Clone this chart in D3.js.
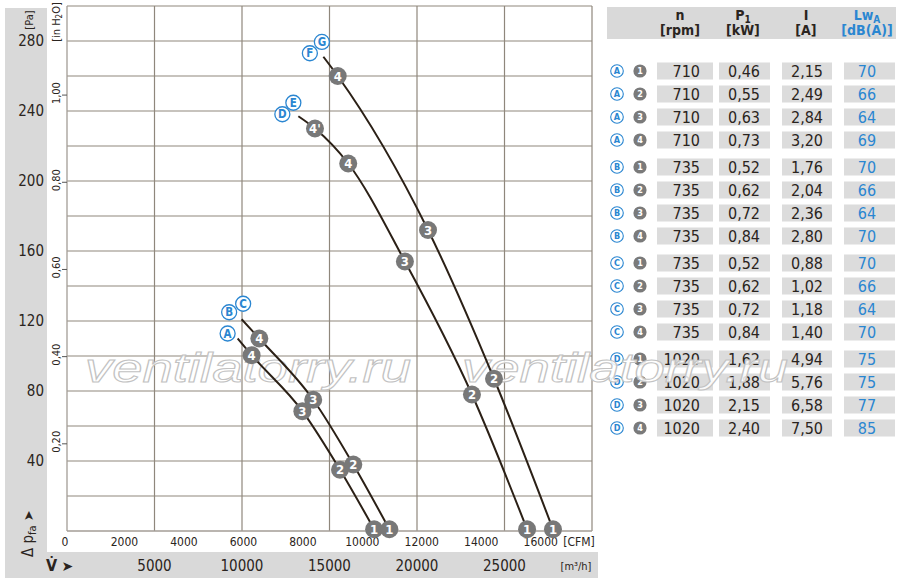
<!DOCTYPE html>
<html><head><meta charset="utf-8">
<script src="https://cdn.jsdelivr.net/npm/d3@7"></script>
<style>
body{margin:0;background:#fff;}
svg{display:block;font-family:"Liberation Sans Narrow","Arial Narrow","DejaVu Sans Condensed",sans-serif;}
</style></head><body>
<svg id="c" width="900" height="583"></svg>
<script>
// ---------------- DATA ----------------
const flowTicksM3h = [5000, 10000, 15000, 20000, 25000];
const flowTicksCFM = [0, 2000, 4000, 6000, 8000, 10000, 12000, 14000, 16000];
const pressureTicksPa = [40, 80, 120, 160, 200, 240, 280];
const pressureTicksInH2O = [0.20, 0.40, 0.60, 0.80, 1.00];

// characteristic curves: [flow m3/h, pressure Pa]
const curveA  = [[9750, 110], [10550, 100.5], [13450, 68.5], [15600, 35], [17550, 1]];
const curveBC = [[9980, 121], [10990, 110], [14070, 75], [16360, 38], [18420, 1]];
const curveDE = [[13220, 237], [14170, 230], [16070, 210], [19310, 154], [23140, 78], [26290, 1]];
const curveFG = [[14650, 271], [15470, 260], [20630, 172], [24400, 87], [27770, 1]];
// operating point labels for each curve point ("" = no marker)
const markersA  = ["", "4", "3", "2", "1"];
const markersBC = ["", "4", "3", "2", "1"];
const markersDE = ["", "4'", "4", "3", "2", "1"];
const markersFG = ["", "4", "3", "2", "1"];

// table
const groupLetters = ["A", "B", "C", "D"];
const pointNumbers = ["1", "2", "3", "4"];
const speedRpm = ["710","710","710","710","735","735","735","735","735","735","735","735","1020","1020","1020","1020"];
const powerKW = ["0,46","0,55","0,63","0,73","0,52","0,62","0,72","0,84","0,52","0,62","0,72","0,84","1,62","1,88","2,15","2,40"];
const currentA = ["2,15","2,49","2,84","3,20","1,76","2,04","2,36","2,80","0,88","1,02","1,18","1,40","4,94","5,76","6,58","7,50"];
const soundLwA = ["70","66","64","69","70","66","64","70","70","66","64","70","75","75","77","85"];

// ---------------- DRAW ----------------
const svg = d3.select("#c");
const BLUE = "#2a86d1", DARK = "#2a2420", GRID = "#8f877c", BAND = "#d9d9d9";
const CFM_TO_M3H = 1.699, PA_PER_INH2O = 249.09;

const x = d3.scaleLinear().domain([0, 30000]).range([67, 592]);
const y = d3.scaleLinear().domain([0, 300]).range([531, 6]);

// grey bands
svg.append("rect").attr("x", 5).attr("y", 8).attr("width", 42).attr("height", 570).attr("fill", BAND);
svg.append("rect").attr("x", 5).attr("y", 552).attr("width", 593).attr("height", 26).attr("fill", BAND);

// grid
const g = svg.append("g");
g.selectAll(".h").data(y.ticks(15).filter(v => v > 0)).join("line")
  .attr("x1", x(0)).attr("x2", x(30000)).attr("y1", d => y(d)).attr("y2", d => y(d))
  .attr("stroke", GRID).attr("stroke-width", 1.2);
g.selectAll(".v").data(x.ticks(6).filter(v => v > 0)).join("line")
  .attr("y1", y(0)).attr("y2", y(300)).attr("x1", d => x(d)).attr("x2", d => x(d))
  .attr("stroke", GRID).attr("stroke-width", 1.2);
g.append("line").attr("x1", x(0)).attr("x2", x(0)).attr("y1", y(0)).attr("y2", y(300)).attr("stroke", "#a39d96").attr("stroke-width", 1.3);
g.append("line").attr("x1", x(0)).attr("x2", x(30000)).attr("y1", y(0)).attr("y2", y(0)).attr("stroke", "#a39d96").attr("stroke-width", 1.3);

// Pa axis labels
svg.selectAll(".pa").data(pressureTicksPa).join("text")
  .attr("x", 44).attr("y", d => y(d) + 5).attr("text-anchor", "end")
  .attr("font-size", 15).attr("fill", DARK).text(d => d);
svg.append("text").attr("transform", "translate(33,20) rotate(-90)").attr("text-anchor", "middle")
  .attr("font-size", 11).attr("fill", DARK).text("[Pa]");

// in H2O axis
const ih = svg.append("g");
ih.selectAll("line").data(pressureTicksInH2O).join("line")
  .attr("x1", 62).attr("x2", 67).attr("y1", d => y(d * PA_PER_INH2O)).attr("y2", d => y(d * PA_PER_INH2O))
  .attr("stroke", "#555").attr("stroke-width", 1);
ih.selectAll("text").data(pressureTicksInH2O).join("text")
  .attr("transform", d => `translate(60,${y(d * PA_PER_INH2O) - 2}) rotate(-90)`)
  .attr("text-anchor", "middle").attr("font-size", 11).attr("fill", DARK)
  .text(d => d.toFixed(2).replace(".", ","));
const inl = svg.append("text").attr("transform", "translate(60,22) rotate(-90)").attr("text-anchor", "middle")
  .attr("font-size", 11).attr("fill", DARK);
inl.append("tspan").text("[in H");
inl.append("tspan").attr("font-size", 8).attr("dy", 2).text("2");
inl.append("tspan").attr("dy", -2).text("O]");

// delta p label
const dp = svg.append("text").attr("transform", "translate(33,557) rotate(-90)").attr("font-size", 15).attr("fill", DARK);
dp.append("tspan").text("Δ p");
dp.append("tspan").attr("font-size", 11).attr("dy", 3).text("fa");
dp.append("tspan").attr("dy", -3).attr("font-family", "DejaVu Sans").attr("font-size", 13).text(" ➤");

// CFM labels
svg.selectAll(".cfm").data(flowTicksCFM).join("text")
  .attr("x", d => x(d * CFM_TO_M3H) - 2).attr("y", 546).attr("text-anchor", "middle")
  .attr("font-size", 12).attr("fill", DARK).text(d => d);
svg.append("text").attr("x", 579).attr("y", 546).attr("text-anchor", "middle").attr("font-size", 12).attr("fill", DARK).text("[CFM]");

// m3/h labels
svg.selectAll(".m3").data(flowTicksM3h).join("text")
  .attr("x", d => x(d)).attr("y", 571).attr("text-anchor", "middle")
  .attr("font-size", 15).attr("fill", DARK).text(d => d);
svg.append("text").attr("x", 576).attr("y", 570).attr("text-anchor", "middle").attr("font-size", 11).attr("fill", DARK).text("[m³/h]");
const vl = svg.append("text").attr("x", 46).attr("y", 571).attr("font-size", 16).attr("font-weight", "bold").attr("fill", DARK);
vl.append("tspan").text("V\u0307");
vl.append("tspan").attr("font-family", "DejaVu Sans").attr("font-size", 14).attr("font-weight", "normal").text(" ➤");

// ---------------- TABLE ----------------
const tb = svg.append("g");
tb.append("rect").attr("x", 607).attr("y", 7).attr("width", 289).attr("height", 32).attr("fill", BAND);
const hdr = [
  {x: 680, t1: ["n"], t2: "[rpm]", c: DARK},
  {x: 743, t1: ["P", "1"], t2: "[kW]", c: DARK},
  {x: 806, t1: ["I"], t2: "[A]", c: DARK},
  {x: 867, t1: ["Lw", "A"], t2: "[dB(A)]", c: BLUE}
];
hdr.forEach(h => {
  const t = tb.append("text").attr("x", h.x).attr("y", 20).attr("text-anchor", "middle")
    .attr("font-size", 14).attr("font-weight", "bold").attr("fill", h.c);
  t.append("tspan").text(h.t1[0]);
  if (h.t1[1]) t.append("tspan").attr("font-size", 10).attr("dy", 3).text(h.t1[1]);
  tb.append("text").attr("x", h.x).attr("y", 35).attr("text-anchor", "middle")
    .attr("font-size", 14).attr("font-weight", "bold").attr("fill", h.c).text(h.t2);
});
const rowY = i => 71 + i * 23 + Math.floor(i / 4) * 4;
const cols = [
  {x0: 657, w: 56, tx: 700, anchor: "end", vals: speedRpm, c: DARK},
  {x0: 719, w: 51, tx: 744, anchor: "middle", vals: powerKW, c: DARK},
  {x0: 782, w: 50, tx: 807, anchor: "middle", vals: currentA, c: DARK},
  {x0: 844, w: 51, tx: 867, anchor: "middle", vals: soundLwA, c: BLUE}
];
speedRpm.forEach((_, i) => {
  const cy = rowY(i);
  const letter = groupLetters[Math.floor(i / 4)], num = pointNumbers[i % 4];
  tb.append("circle").attr("cx", 617).attr("cy", cy).attr("r", 6.3).attr("fill", "#fff").attr("stroke", BLUE).attr("stroke-width", 1.1);
  tb.append("text").attr("x", 617).attr("y", cy + 3.2).attr("text-anchor", "middle").attr("font-size", 9).attr("font-weight", "bold").attr("fill", BLUE).text(letter);
  tb.append("circle").attr("cx", 640).attr("cy", cy).attr("r", 6.6).attr("fill", "#7a7a7a");
  tb.append("text").attr("x", 640).attr("y", cy + 3.2).attr("text-anchor", "middle").attr("font-size", 9).attr("font-weight", "bold").attr("fill", "#fff").text(num);
  cols.forEach(c => {
    tb.append("rect").attr("x", c.x0).attr("y", cy - 8.5).attr("width", c.w).attr("height", 17).attr("fill", "#dcdcdc");
    tb.append("text").attr("x", c.tx).attr("y", cy + 5.8).attr("text-anchor", c.anchor)
      .attr("font-size", 16).attr("fill", c.c).text(c.vals[i]);
  });
});

// ---------------- WATERMARK ----------------
[85, 462].forEach(wx => {
  svg.append("text").attr("x", wx).attr("y", 382).attr("font-family", "Liberation Sans, sans-serif")
    .attr("font-style", "italic").attr("font-size", 41).attr("textLength", 326).attr("lengthAdjust", "spacingAndGlyphs")
    .attr("fill", "#fff").attr("fill-opacity", 0.85).attr("stroke", "#c2c2c2").attr("stroke-width", 1)
    .text("ventilatorry.ru");
});

// ---------------- CURVES ----------------
const line = d3.line().x(d => x(d[0])).y(d => y(d[1])).curve(d3.curveMonotoneX);
const curves = [[curveA, markersA], [curveBC, markersBC], [curveDE, markersDE], [curveFG, markersFG]];
const cg = svg.append("g");
curves.forEach(([pts]) => {
  cg.append("path").attr("d", line(pts)).attr("fill", "none").attr("stroke", "#2b2016").attr("stroke-width", 2);
});
curves.forEach(([pts, mk]) => {
  pts.forEach((p, i) => {
    if (!mk[i]) return;
    cg.append("circle").attr("cx", x(p[0])).attr("cy", y(p[1])).attr("r", 9).attr("fill", "#787878");
    cg.append("text").attr("x", x(p[0])).attr("y", y(p[1]) + 4.5).attr("text-anchor", "middle")
      .attr("font-size", 13).attr("font-weight", "bold").attr("fill", "#fff").text(mk[i]);
  });
});

// curve letters (offsets in px from the curve start)
const letterLabels = [
  {c: curveA, t: "A", dx: -10, dy: -5},
  {c: curveBC, t: "B", dx: -12.5, dy: -7},
  {c: curveBC, t: "C", dx: 1.5, dy: -15.5},
  {c: curveDE, t: "D", dx: -16, dy: -2},
  {c: curveDE, t: "E", dx: -5, dy: -13.5},
  {c: curveFG, t: "F", dx: -13.5, dy: -3.5},
  {c: curveFG, t: "G", dx: -1.5, dy: -14.8}
];
letterLabels.forEach(l => {
  const cx = x(l.c[0][0]) + l.dx, cy = y(l.c[0][1]) + l.dy;
  cg.append("circle").attr("cx", cx).attr("cy", cy).attr("r", 7.5).attr("fill", "#fff").attr("stroke", BLUE).attr("stroke-width", 1.3);
  cg.append("text").attr("x", cx).attr("y", cy + 4).attr("text-anchor", "middle").attr("font-size", 11.5)
    .attr("font-weight", "bold").attr("fill", BLUE).text(l.t);
});
</script>
</body></html>
